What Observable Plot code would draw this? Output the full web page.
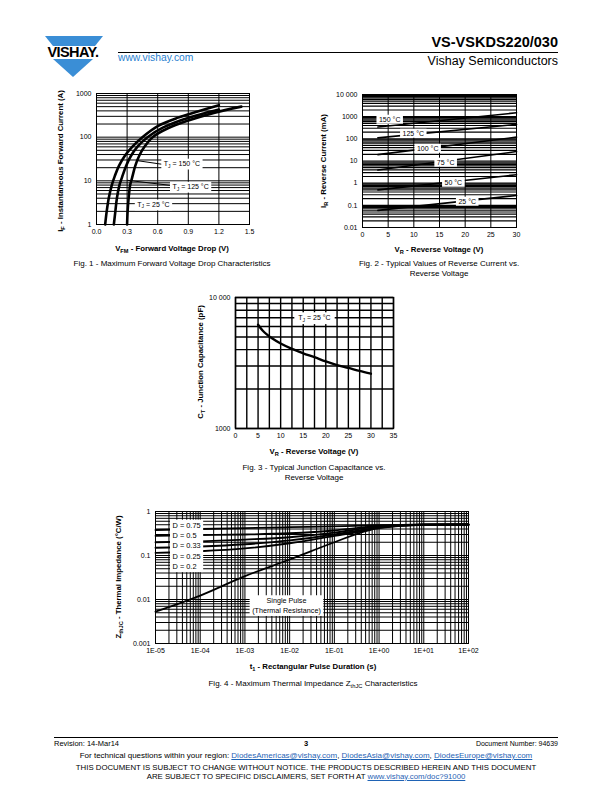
<!DOCTYPE html>
<html><head><meta charset="utf-8">
<script src="https://cdn.jsdelivr.net/npm/d3@7"></script>
<script src="https://cdn.jsdelivr.net/npm/@observablehq/plot@0.6"></script>
<style>
body{margin:0;background:#fff;}
#page{position:relative;width:612px;height:792px;overflow:hidden;font-family:"Liberation Sans",Arial,sans-serif;color:#000;background:#fff;}
.t{position:absolute;white-space:nowrap;line-height:1;}
.cap{position:absolute;font-size:8px;text-align:center;white-space:nowrap;transform:translateX(-50%);line-height:9.5px;}
.xt{position:absolute;font-size:7.8px;font-weight:bold;white-space:nowrap;transform:translateX(-50%);line-height:1;}
.yt{position:absolute;font-size:7.8px;font-weight:bold;white-space:nowrap;transform:translate(-50%,-50%) rotate(-90deg);line-height:1;}
sub{font-size:0.72em;vertical-align:-0.35em;line-height:0;}
a{color:#1f63b5;text-decoration:underline;}
</style></head><body><div id="page"></div>
<script>
// ---------- Fig. 1 data : forward voltage drop ----------
const fig1Series = ["T_J = 150 °C", "T_J = 125 °C", "T_J = 25 °C"];
const vfm150 = [0.085,0.10,0.12,0.15,0.18,0.22,0.28,0.35,0.45,0.60,0.80,1.00,1.20];
const ifm150 = [1,2,4,8,13,22,38,60,100,180,280,390,540];
const vfm125 = [0.17,0.185,0.20,0.225,0.25,0.29,0.34,0.40,0.50,0.65,0.85,1.05,1.20];
const ifm125 = [1,2,4,8,12,22,38,60,100,165,255,350,430];
const vfm25  = [0.30,0.305,0.315,0.33,0.35,0.38,0.42,0.47,0.55,0.70,0.90,1.15,1.42];
const ifm25  = [1,2,4,8,12,22,38,60,100,160,240,360,500];
const fig1XTicks = [0,0.3,0.6,0.9,1.2,1.5];
const fig1XLabels = ["0.0","0.3","0.6","0.9","1.2","1.5"];
const fig1YTicks = [1,10,100,1000];
const fig1YLabels = ["1","10","100","1000"];
const fig1LabelX = [0.66, 0.745, 0.40];
const fig1LabelY = [25, 7.4, 2.9];
const fig1LeaderFrom = [[0.40,29],[0.30,10.3]];
const fig1LeaderTo = [[0.64,24],[0.72,7.9]];

// ---------- Fig. 2 data : reverse current ----------
const fig2Series = ["150 °C","125 °C","100 °C","75 °C","50 °C","25 °C"];
const fig2V = [3, 30];
const ir150 = [340, 1500];
const ir125 = [110, 450];
const ir100 = [19.4, 119];
const ir75  = [3.9, 26.6];
const ir50  = [0.5, 2.4];
const ir25  = [0.059, 0.28];
const fig2LabelX = [5.3, 9.9, 12.7, 16.2, 17.7, 20.4];
const fig2LabelY = [745, 174, 36.6, 8.6, 1.07, 0.149];
const fig2XTicks = [0,5,10,15,20,25,30];
const fig2XLabels = ["0","5","10","15","20","25","30"];
const fig2YTicks = [0.01,0.1,1,10,100,1000,10000];
const fig2YLabels = ["0.01","0.1","1","10","100","1000","10 000"];

// ---------- Fig. 3 data : junction capacitance ----------
const fig3V = [5,6,7,8,10,12.5,15,17.5,20,22.5,25,27.5,30];
const fig3C = [6200,5600,5200,4900,4450,4050,3750,3500,3250,3050,2900,2750,2620];
const fig3Label = "T_J = 25 °C";
const fig3LabelX = 17.5, fig3LabelY = 7030;
const fig3XTicks = [0,5,10,15,20,25,30,35];
const fig3XLabels = ["0","5","10","15","20","25","30","35"];
const fig3YTicks = [1000,10000];
const fig3YLabels = ["1000","10 000"];

// ---------- Fig. 4 data : thermal impedance ----------
const fig4Series = ["D = 0.75","D = 0.5","D = 0.33","D = 0.25","D = 0.2","Single Pulse"];
const fig4T = [1e-5,1e-4,1e-3,1e-2,0.1,0.5,1,10,100];
const zD075 = [0.38,0.40,0.42,0.44,0.46,0.48,0.49,0.50,0.50];
const zD050 = [0.28,0.29,0.30,0.32,0.37,0.44,0.47,0.50,0.50];
const zD033 = [0.20,0.21,0.23,0.26,0.33,0.42,0.46,0.50,0.50];
const zD025 = [0.15,0.16,0.18,0.22,0.30,0.39,0.44,0.50,0.50];
const zD020 = [0.115,0.125,0.145,0.19,0.28,0.37,0.43,0.50,0.50];
const zSingle = [0.0053,0.0123,0.034,0.081,0.20,0.36,0.42,0.50,0.52];
const fig4BoxText = "D = 0.75\nD = 0.5\nD = 0.33\nD = 0.25\nD = 0.2";
const fig4BoxX = 2.4e-5, fig4BoxY = 0.63;
const fig4SPText = "Single Pulse\n(Thermal Resistance)";
const fig4SPX = 0.0085, fig4SPY = 0.0075;
const fig4XTicks = [1e-5,1e-4,1e-3,1e-2,1e-1,1,10,100];
const fig4XLabels = ["1E-05","1E-04","1E-03","1E-02","1E-01","1E+00","1E+01","1E+02"];
const fig4YTicks = [0.001,0.01,0.1,1];
const fig4YLabels = ["0.001","0.01","0.1","1"];

// ---------- helpers ----------
const FONT = '"Liberation Sans", Arial, Helvetica, sans-serif';
const page = document.getElementById("page");
const NS = "http://www.w3.org/2000/svg";

function logGrid(lo, hi) { // minor grid positions of a log axis (1..9 per decade)
  const out = [];
  for (let e = Math.round(Math.log10(lo)); e < Math.round(Math.log10(hi)); e++)
    for (let m = 1; m <= 9; m++) out.push(m * Math.pow(10, e));
  out.push(hi);
  return out;
}
function fmt(ticks, labels) { return d => labels[ticks.indexOf(d)]; }
function series(names, xs, ys) {
  const rows = [];
  names.forEach((n, i) => xs[i].forEach((x, j) => rows.push({s: n, x, y: ys[i][j]})));
  return rows;
}
function axes(xt, xl, yt, yl) {
  return [
    Plot.axisX({ticks: xt, tickFormat: fmt(xt, xl), tickSize: 0, tickPadding: 5, label: null}),
    Plot.axisY({ticks: yt, tickFormat: fmt(yt, yl), tickSize: 0, tickPadding: 5, label: null})
  ];
}
function place(svg, left, top, pads) {
  svg.style.position = "absolute";
  svg.style.left = left + "px";
  svg.style.top = top + "px";
  page.appendChild(svg);
  svg.querySelectorAll('g[aria-label="text"] text').forEach(t => {
    const s = t.textContent;
    if (s.startsWith("T_J")) {
      const rest = s.slice(3);
      t.textContent = "";
      const a = document.createElementNS(NS, "tspan"); a.textContent = "T"; t.appendChild(a);
      const b = document.createElementNS(NS, "tspan"); b.textContent = "J"; b.setAttribute("dy", "1.8"); b.setAttribute("font-size", "5"); t.appendChild(b);
      const c = document.createElementNS(NS, "tspan"); c.textContent = rest; c.setAttribute("dy", "-1.8"); t.appendChild(c);
    }
    const bb = t.getBBox();
    const p = (pads && pads[s]) || [2.5, 1];
    const r = document.createElementNS(NS, "rect");
    r.setAttribute("x", bb.x - p[0]); r.setAttribute("y", bb.y - p[1]);
    r.setAttribute("width", bb.width + 2 * p[0]); r.setAttribute("height", bb.height + 2 * p[1]);
    r.setAttribute("fill", "white");
    if (t.getAttribute("transform")) r.setAttribute("transform", t.getAttribute("transform"));
    t.parentNode.insertBefore(r, t);
  });
}
const baseStyle = {fontSize: "7px", fontFamily: FONT, color: "black", background: "transparent", overflow: "visible"};

// ---------- Fig. 1 ----------
{
  const data = series(fig1Series, [vfm150, vfm125, vfm25], [ifm150, ifm125, ifm25]);
  const labels = fig1Series.map((s, i) => ({s, x: fig1LabelX[i], y: fig1LabelY[i]}));
  const leaders = fig1LeaderFrom.map((f, i) => ({x1: f[0], y1: f[1], x2: fig1LeaderTo[i][0], y2: fig1LeaderTo[i][1]}));
  const svg = Plot.plot({
    width: 230, height: 175, marginLeft: 56, marginRight: 21, marginTop: 8, marginBottom: 36,
    style: baseStyle,
    x: {domain: [0, 1.5]},
    y: {type: "log", domain: [1, 1000]},
    marks: [
      Plot.ruleY(logGrid(1, 1000), {stroke: "black", strokeWidth: 1}),
      Plot.ruleX(fig1XTicks, {stroke: "black", strokeWidth: 1}),
      Plot.link(leaders, {x1: "x1", y1: "y1", x2: "x2", y2: "y2", stroke: "black", strokeWidth: 1}),
      Plot.line(data, {x: "x", y: "y", z: "s", stroke: "black", strokeWidth: 2.6, curve: "catmull-rom"}),
      Plot.text(labels, {x: "x", y: "y", text: "s", textAnchor: "start", fontSize: 7, fill: "black"}),
      Plot.frame({stroke: "black", strokeWidth: 1}),
      ...axes(fig1XTicks, fig1XLabels, fig1YTicks, fig1YLabels)
    ]
  });
  place(svg, 40, 85);
}

// ---------- Fig. 2 ----------
{
  const ys = [ir150, ir125, ir100, ir75, ir50, ir25];
  const data = series(fig2Series, ys.map(() => fig2V), ys);
  const labels = fig2Series.map((s, i) => ({s, x: fig2LabelX[i], y: fig2LabelY[i]}));
  const svg = Plot.plot({
    width: 230, height: 175, marginLeft: 52, marginRight: 24, marginTop: 9, marginBottom: 33,
    style: baseStyle,
    x: {domain: [0, 30]},
    y: {type: "log", domain: [0.01, 10000]},
    marks: [
      Plot.ruleY(logGrid(0.01, 10000), {stroke: "black", strokeWidth: 1.2}),
      Plot.ruleX(fig2XTicks, {stroke: "black", strokeWidth: 1}),
      Plot.line(data, {x: "x", y: "y", z: "s", stroke: "black", strokeWidth: 1.6}),
      Plot.text(labels, {x: "x", y: "y", text: "s", fontSize: 7, fill: "black"}),
      Plot.frame({stroke: "black", strokeWidth: 1}),
      ...axes(fig2XTicks, fig2XLabels, fig2YTicks, fig2YLabels)
    ]
  });
  place(svg, 310, 85);
}

// ---------- Fig. 3 ----------
{
  const data = fig3V.map((v, i) => ({x: v, y: fig3C[i]}));
  const svg = Plot.plot({
    width: 230, height: 170, marginLeft: 55, marginRight: 17, marginTop: 12, marginBottom: 27,
    style: baseStyle,
    x: {domain: [0, 35]},
    y: {type: "log", domain: [1000, 10000]},
    marks: [
      Plot.ruleY(logGrid(1000, 10000), {stroke: "black", strokeWidth: 1.4}),
      Plot.ruleX(d3.range(0, 35.1, 2.5), {stroke: "black", strokeWidth: 1.4}),
      Plot.line(data, {x: "x", y: "y", stroke: "black", strokeWidth: 2.4, curve: "catmull-rom"}),
      Plot.text([{s: fig3Label, x: fig3LabelX, y: fig3LabelY}], {x: "x", y: "y", text: "s", fontSize: 7, fill: "black"}),
      Plot.frame({stroke: "black", strokeWidth: 1.4}),
      ...axes(fig3XTicks, fig3XLabels, fig3YTicks, fig3YLabels)
    ]
  });
  place(svg, 180, 285, {[fig3Label]: [4, 1.5]});
}

// ---------- Fig. 4 ----------
{
  const ys = [zD075, zD050, zD033, zD025, zD020, zSingle];
  const data = series(fig4Series, ys.map(() => fig4T), ys);
  const svg = Plot.plot({
    width: 390, height: 160, marginLeft: 55, marginRight: 22, marginTop: 11, marginBottom: 17,
    style: baseStyle,
    x: {type: "log", domain: [1e-5, 100]},
    y: {type: "log", domain: [0.001, 1]},
    marks: [
      Plot.ruleY(logGrid(0.001, 1), {stroke: "black", strokeWidth: 1}),
      Plot.ruleX(logGrid(1e-5, 100), {stroke: "black", strokeWidth: 1}),
      Plot.line(data, {x: "x", y: "y", z: "s", stroke: "black", strokeWidth: 1.8, curve: "monotone-x"}),
      Plot.text([{s: fig4BoxText, x: fig4BoxX, y: fig4BoxY}], {x: "x", y: "y", text: "s", textAnchor: "start", lineAnchor: "top", lineHeight: 1.4, fontSize: 7.4, fill: "black"}),
      Plot.text([{s: fig4SPText, x: fig4SPX, y: fig4SPY}], {x: "x", y: "y", text: "s", lineHeight: 1.35, fontSize: 7.2, fill: "black"}),
      Plot.frame({stroke: "black", strokeWidth: 1}),
      ...axes(fig4XTicks, fig4XLabels, fig4YTicks, fig4YLabels)
    ]
  });
  place(svg, 100, 500, {[fig4BoxText]: [2, 2], [fig4SPText]: [7, 5]});
}

// ---------- page text (titles, captions, header, footer) ----------
page.insertAdjacentHTML("beforeend", `
<div class="yt" style="left:61px;top:161px">I<sub>F</sub> - Instantaneous Forward Current (A)</div>
<div class="xt" style="left:172px;top:245px">V<sub>FM</sub> - Forward Voltage Drop (V)</div>
<div class="cap" style="left:172px;top:259px">Fig. 1 - Maximum Forward Voltage Drop Characteristics</div>

<div class="yt" style="left:324px;top:161px">I<sub>R</sub> - Reverse Current (mA)</div>
<div class="xt" style="left:439px;top:246px">V<sub>R</sub> - Reverse Voltage (V)</div>
<div class="cap" style="left:439px;top:259px">Fig. 2 - Typical Values of Reverse Current vs.<br>Reverse Voltage</div>

<div class="yt" style="left:201px;top:362px">C<sub>T</sub> - Junction Capacitance (pF)</div>
<div class="xt" style="left:314px;top:448px">V<sub>R</sub> - Reverse Voltage (V)</div>
<div class="cap" style="left:314px;top:463px">Fig. 3 - Typical Junction Capacitance vs.<br>Reverse Voltage</div>

<div class="yt" style="left:119px;top:577px">Z<sub>thJC</sub> - Thermal Impedance (°C/W)</div>
<div class="xt" style="left:313px;top:663px">t<sub>1</sub> - Rectangular Pulse Duration (s)</div>
<div class="cap" style="left:313px;top:679px">Fig. 4 - Maximum Thermal Impedance Z<sub>thJC</sub> Characteristics</div>

<svg style="position:absolute;left:36px;top:33px" width="74" height="46">
  <polygon points="9,3 67,3 59,13 17,13" fill="#3a8ed6"/>
  <text x="37" y="23.5" font-family="${FONT}" font-size="14.5" font-weight="bold" text-anchor="middle" letter-spacing="-0.6">VISHAY.</text>
  <polygon points="17,26 57,26 37,44" fill="#3a8ed6"/>
</svg>
<div class="t" style="left:118px;top:53px;font-size:10.3px;color:#2a7fd0">www.vishay.com</div>
<div style="position:absolute;left:118px;top:52px;width:440px;height:1px;background:#000"></div>
<div class="t" style="right:54px;top:35px;font-size:14.5px;font-weight:bold">VS-VSKDS220/030</div>
<div class="t" style="right:54px;top:55px;font-size:12.5px">Vishay Semiconductors</div>

<div style="position:absolute;left:54px;top:737px;width:504px;height:1px;background:#000"></div>
<div class="t" style="left:54px;top:740px;font-size:7.5px">Revision: 14-Mar14</div>
<div class="t" style="left:306px;top:740px;font-size:7.5px;font-weight:bold;transform:translateX(-50%)">3</div>
<div class="t" style="right:54px;top:740px;font-size:7px">Document Number: 94639</div>
<div class="t" style="left:306px;top:752px;font-size:8px;transform:translateX(-50%)">For technical questions within your region: <a>DiodesAmericas@vishay.com</a>, <a>DiodesAsia@vishay.com</a>, <a>DiodesEurope@vishay.com</a></div>
<div class="t" style="left:306px;top:764px;font-size:7.8px;transform:translateX(-50%);text-align:center;line-height:8.5px">THIS DOCUMENT IS SUBJECT TO CHANGE WITHOUT NOTICE. THE PRODUCTS DESCRIBED HEREIN AND THIS DOCUMENT<br>ARE SUBJECT TO SPECIFIC DISCLAIMERS, SET FORTH AT <a>www.vishay.com/doc?91000</a></div>
`);
</script></body></html>
